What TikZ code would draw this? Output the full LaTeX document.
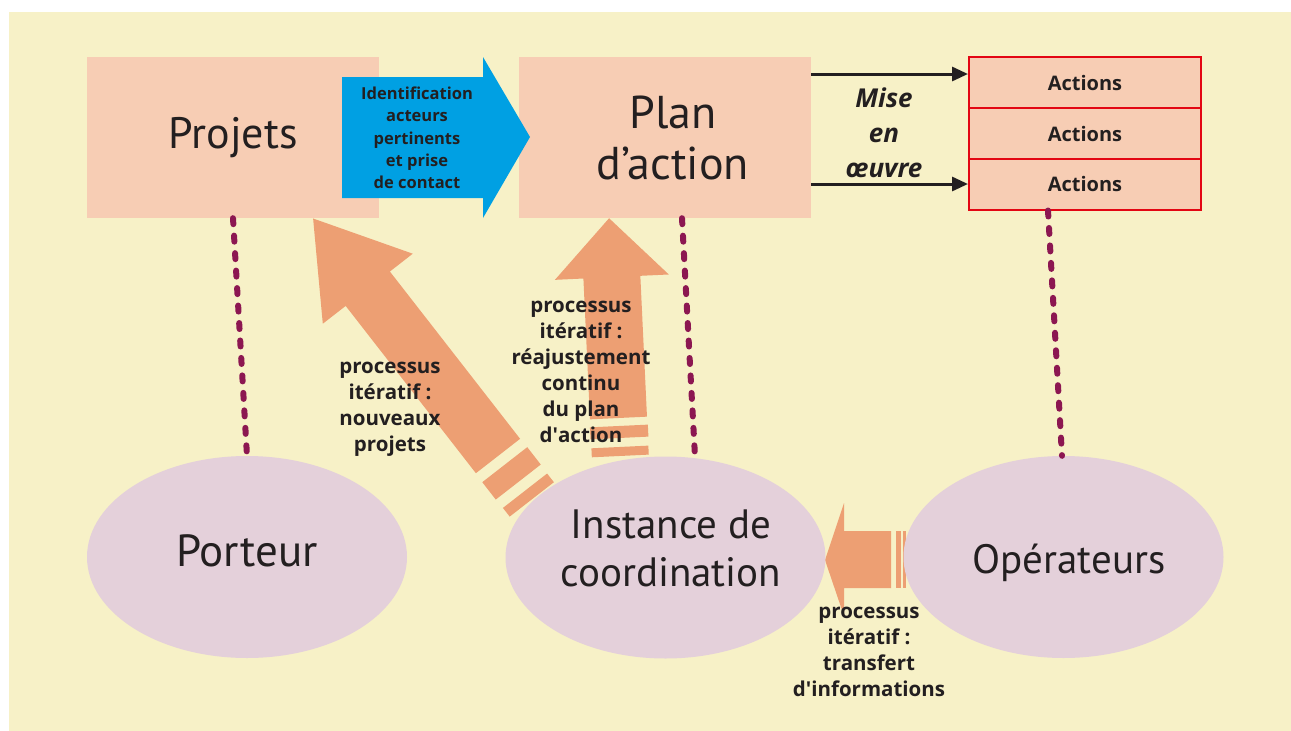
\documentclass[tikz,border=0pt]{standalone}
\usepackage{fontspec}
\setmainfont{PT Sans}
\newfontfamily\lblfont{Open Sans}
\usetikzlibrary{shapes.geometric,arrows.meta}
\definecolor{bgyel}{RGB}{247,241,199}
\definecolor{peach}{RGB}{247,205,180}
\definecolor{lilac}{RGB}{228,208,218}
\definecolor{blueA}{RGB}{0,160,227}
\definecolor{redA}{RGB}{227,6,19}
\definecolor{maroon}{RGB}{140,23,81}
\definecolor{salmon}{RGB}{237,159,115}
\definecolor{ink}{RGB}{35,31,32}
\tikzset{
  pbox/.style={fill=peach, draw=none, minimum width=292pt, minimum height=161pt, inner sep=0pt, text=ink, align=center},
  actbox/.style={fill=peach, draw=redA, line width=2pt, minimum width=232pt, minimum height=51pt, inner sep=0pt, text=ink, font=\lblfont\fontsize{20}{24}\selectfont\bfseries},
  ell/.style={ellipse, fill=lilac, draw=none, minimum width=320pt, minimum height=202pt, inner sep=0pt},
  elltxt/.style={text=ink, align=center, inner sep=0pt},
  dotl/.style={draw=maroon, line width=6pt, line cap=round, dash pattern=on 6pt off 11.5pt},
  lbl/.style={text=ink, align=center, font=\lblfont\fontsize{20.5}{26}\selectfont\bfseries},
  blk/.style={fill=salmon, draw=none},
  mise/.style={draw=ink, line width=3pt, -{Triangle[length=16pt,width=14pt]}}
}
\begin{document}
\begin{tikzpicture}[x=1pt,y=-1pt]
\useasboundingbox (0,0) rectangle (1291,731);
\fill[bgyel] (9,12) rectangle (1291,731);

% top boxes
\node[pbox, font=\fontsize{44}{50}\selectfont] (projets) at (233,137.5) {Projets};
\node[pbox] (plan) at (665,137.5) {};
\node[elltxt, font=\fontsize{46}{51}\selectfont] (planT) at (673,138) {Plan\\d’action};

% blue arrow
\fill[blueA] (342,77) -- (483,77) -- (483,57) -- (530,137) -- (483,218) -- (483,198) -- (342,198) -- cycle;
\node[text=ink, align=center, font=\lblfont\fontsize{16.5}{22.25}\selectfont\bfseries] (ident) at (417,138) {Identification\\acteurs\\pertinents\\et prise\\de contact};

% actions
\node[actbox] (act1) at (1085,82.5) {Actions};
\node[actbox] (act2) at (1085,133.5) {Actions};
\node[actbox] (act3) at (1085,184) {Actions};
\coordinate (m1) at ([yshift=8.5pt]act1.west);
\coordinate (m3) at (act3.west);
\draw[mise] (plan.east |- m1) -- (m1);
\draw[mise] (plan.east |- m3) -- (m3);
\node[text=ink, align=center, font=\lblfont\fontsize{26}{35}\selectfont\bfseries\itshape] (mise) at (884,133) {Mise\\en\\œuvre};

% salmon arrows (drawn before ellipses)
\begin{scope}[shift={(498,456)}, rotate=127.9]
  \fill[blk] (0,-28) -- (212,-28) -- (212,-57) -- (301,0) -- (212,57) -- (212,28) -- (0,28) -- cycle;
  \fill[blk] (-11,-28.5) rectangle (-33,28.5);
  \fill[blk] (-44,-28) rectangle (-55,28);
\end{scope}
\begin{scope}[shift={(618.5,418)}, rotate=92.7]
  \fill[blk] (0,-28.5) -- (141,-28.5) -- (141,-57) -- (200,0) -- (141,57) -- (141,28.5) -- (0,28.5) -- cycle;
  \fill[blk] (-8,-29) rectangle (-20,29);
  \fill[blk] (-29,-28.5) rectangle (-38,28.5);
\end{scope}
\fill[blk] (891,531) -- (844,531) -- (844,503) -- (825,560) -- (844,616) -- (844,588) -- (891,588) -- cycle;
\fill[blk] (896,531) rectangle (901,588);
\fill[blk] (903,531) rectangle (906,588);

% ellipses
\node[ell] (porteur) at (247,557) {};
\node[ell] (instance) at (665.5,557.5) {};
\node[ell] (operateurs) at (1063.5,557) {};
\node[elltxt, font=\fontsize{45}{48}\selectfont] (porteurT) at (247,551) {Porteur};
\node[elltxt, font=\fontsize{41}{48}\selectfont] (instanceT) at (671,548) {Instance de\\coordination};
\node[elltxt, font=\fontsize{41}{48}\selectfont] (operateursT) at (1069,563) {Opérateurs};

% dotted links
\draw[dotl] (projets.south) -- (porteur.north);
\draw[dotl] ([xshift=17pt]plan.south) -- ([xshift=29.5pt]instance.north);
\draw[dotl] ([xshift=-37pt]act3.south) -- ([xshift=-1.5pt]operateurs.north);

% labels
\node[lbl] (l1) at (390,409) {processus\\itératif :\\nouveaux\\projets};
\node[lbl] (l2) at (581,372) {processus\\itératif :\\réajustement\\continu\\du plan\\d\textquotesingle action};
\node[lbl] (l3) at (869,652) {processus\\itératif :\\transfert\\d\textquotesingle informations};
\end{tikzpicture}
\end{document}
